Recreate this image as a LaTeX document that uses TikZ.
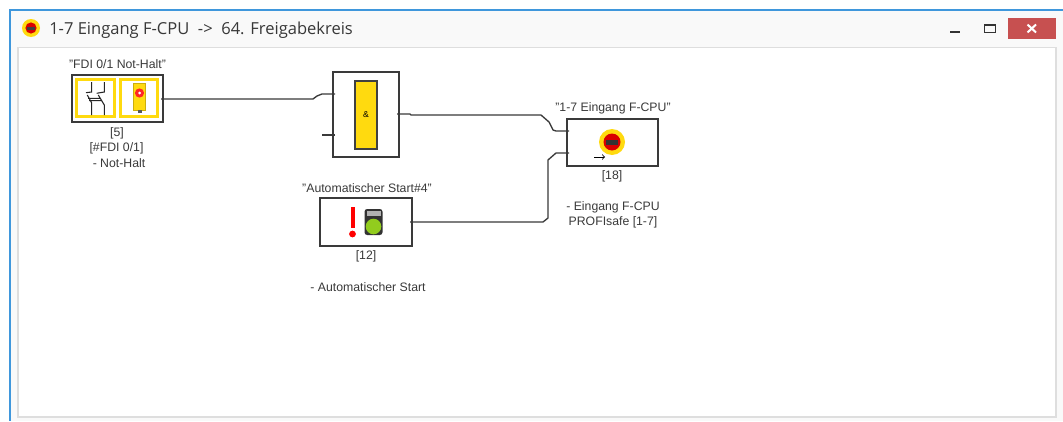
\documentclass[tikz,border=0pt]{standalone}
\usepackage{fontspec}
\setmainfont{Liberation Sans}
\newfontfamily\titlefont{Open Sans}
\definecolor{winblue}{HTML}{3F97DC}
\definecolor{bargray}{HTML}{F9F9F9}
\definecolor{framegray}{HTML}{DEDEDE}
\definecolor{safeyellow}{HTML}{FFDA0F}
\definecolor{inkgray}{HTML}{3A3A3A}
\definecolor{closered}{HTML}{C75050}
\definecolor{lampgreen}{HTML}{92CC1E}
\tikzset{
  px/.style={x=0.75pt,y=-0.75pt},
  blockbox/.style={draw=inkgray,line width=1.1pt,fill=white},
  wire/.style={draw=inkgray,line width=1pt},
  lbl/.style={font=\fontsize{9.2pt}{11.2pt}\selectfont,text=inkgray,inner sep=0pt,align=center,anchor=center},
  yellowcell/.style={draw=safeyellow,line width=2.2pt,fill=white},
}
\begin{document}
\begin{tikzpicture}[px]
\useasboundingbox (0,0) rectangle (1063,421);
\fill[white] (0,0) rectangle (1063,421);
% window
\fill[bargray] (9.5,9.5) rectangle (1063,421);
\fill[winblue] (9,9) rectangle (10.8,421);
\fill[winblue] (9,9) rectangle (1063,10.8);
\draw[framegray,line width=1.3pt,fill=white] (18,47.5) rectangle (1056,417);
% title
\node[font=\titlefont\fontsize{12.4pt}{14pt}\selectfont,text=black!78,anchor=west,inner sep=0pt] (title) at (49,30.5) {1-7 Eingang F-CPU\ \ ->\ \ 64. Freigabekreis};
\fill[safeyellow] (31,28) circle (9);
\fill[red!85!black] (31,28) circle (5.6);
\fill[black!75] (27,26.5) rectangle (35,29.5);
% window buttons
\draw[black!80,line width=1.3pt] (950,31.7) -- (960,31.7);
\draw[black!80,line width=0.9pt] (984.5,24.5) rectangle (995.5,32.5);
\draw[black!80,line width=1.2pt] (985,25.5) -- (995,25.5);
\fill[closered] (1008,17.5) rectangle (1055.5,39);
\draw[white,line width=1.5pt] (1027.5,24.5) -- (1036,32.5) (1036,24.5) -- (1027.5,32.5);

% FDI block
\draw[blockbox] (72,75) rectangle (163,122);
\coordinate (fdiOut) at (161,99);
\draw[yellowcell] (76.5,79.5) rectangle (114.5,116.5);
\draw[yellowcell] (120.5,79.5) rectangle (157.5,116.5);
\draw[black!85,line width=0.8pt]
  (91.7,82) -- (91.7,92) -- (86,92.7)
  (87.3,95) -- (91.7,103) -- (91.7,115)
  (104.3,82) -- (104.3,92) -- (96.7,93.3)
  (98.3,95) -- (104.3,105) -- (104.3,115)
  (88,98.3) -- (100,98.3) (89,100.7) -- (101.7,100.7);
\fill[safeyellow,draw=safeyellow!80!black,line width=0.2pt] (133.5,83) rectangle (145.5,110);
\fill[red!85] (139.5,93) circle (4.6);
\fill[white] (139.5,93) circle (1.5);
\fill[black!65] (137.5,110) rectangle (141.5,113);

% AND block
\draw[blockbox] (333,72) rectangle (399,157);
\node[draw=black!75,line width=0.8pt,fill=safeyellow,minimum width=16.5pt,minimum height=51pt,inner sep=0pt,font=\fontsize{6.5pt}{7pt}\selectfont] (andSym) at (366,115) {\&};
\coordinate (andInA) at (335,94);
\coordinate (andInB) at (335,135);
\coordinate (andInBstub) at (322,135);
\coordinate (andOut) at (397,114);
\draw[wire] (andInB) -- (andInBstub);

% F-CPU block
\draw[blockbox] (567,119) rectangle (658,166);
\coordinate (cpuInA) at (569,131);
\coordinate (cpuInB) at (569,153);
\fill[safeyellow] (612,142) circle (13);
\fill[red!85!black] (612,142) circle (8.5);
\fill[black!80] (606,139.5) rectangle (618,144.5);
\draw[black,line width=0.6pt,-to] (594,157) -- (605,157);

% Automatic start block
\draw[blockbox] (320,198) rectangle (412,246);
\coordinate (startOut) at (410,222);
\fill[red] (350.5,207) rectangle (354.5,228);
\fill[red] (352.5,234) circle (3.4);
\fill[black!80,rounded corners=2pt] (364.5,209) rectangle (382.5,235);
\fill[black!30] (366.5,211) rectangle (380.5,216);
\fill[lampgreen] (373.5,226.5) circle (7.8);

% wires
\draw[wire] (fdiOut) -- (313,99) -- (317,96) -- (322,94) -- (andInA);
\draw[wire] (andOut) -- (410,114) -- (411,115) -- (541,115) -- (549,122) -- (553,130) -- (556,131) -- (cpuInA);
\draw[wire] (startOut) -- (543,222) -- (548,218) -- (548,160) -- (556,153) -- (cpuInB);

% labels
\node[lbl] (fdiName) at (117.5,64.5) {"FDI 0/1 Not-Halt"};
\node[lbl] (fdiNum) at (117,133) {[5]};
\node[lbl] (fdiTag) at (116.5,148) {[\#FDI 0/1]};
\node[lbl] (fdiDesc) at (119,163.5) {- Not-Halt};
\node[lbl] (cpuName) at (613,108) {"1-7 Eingang F-CPU"};
\node[lbl] (cpuNum) at (612,176) {[18]};
\node[lbl] (cpuDesc) at (613,215) {- Eingang F-CPU\\PROFIsafe [1-7]};
\node[lbl] (startName) at (367,188) {"Automatischer Start\#4"};
\node[lbl] (startNum) at (366,256) {[12]};
\node[lbl] (startDesc) at (368,287) {- Automatischer Start};
\end{tikzpicture}
\end{document}
